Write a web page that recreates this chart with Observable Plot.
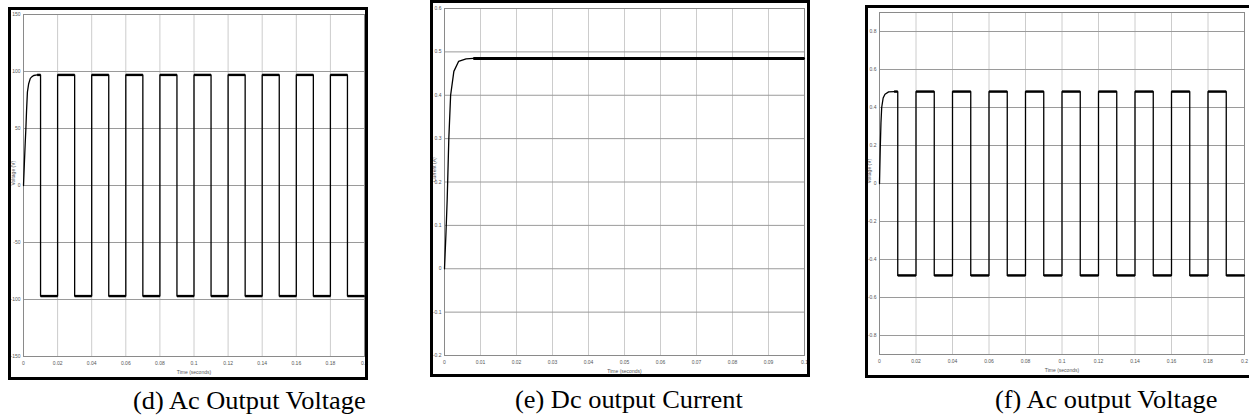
<!DOCTYPE html>
<html><head><meta charset="utf-8">
<script src="https://cdn.jsdelivr.net/npm/d3@7"></script>
<script src="https://cdn.jsdelivr.net/npm/@observablehq/plot@0.6"></script>
<style>
html,body{margin:0;padding:0;background:#fff;}
#root{position:relative;width:1249px;height:417px;overflow:hidden;background:#fff;}
.panel{position:absolute;}
.panel svg{position:absolute;left:0;top:0;}
.border{position:absolute;left:0;top:0;right:0;bottom:0;border:3px solid #000;box-sizing:border-box;pointer-events:none;}
.cap{position:absolute;font-family:"Liberation Serif","Times New Roman",serif;font-size:25px;line-height:25px;white-space:nowrap;transform-origin:0 0;transform:scaleX(1.055);color:#000;}
</style></head><body><div id="root"></div>
<script>
// ---- data ----
// shared switching instants of the square waves (seconds)
const squareTimes = [0.01,0.01,0.02,0.02,0.03,0.03,0.04,0.04,0.05,0.05,0.06,0.06,0.07,0.07,0.08,0.08,0.09,0.09,0.1,0.1,0.11,0.11,0.12,0.12,0.13,0.13,0.14,0.14,0.15,0.15,0.16,0.16,0.17,0.17,0.18,0.18,0.19,0.19,0.2];

// (d) Ac Output Voltage
const dRiseTime  = [0,0.0005,0.001,0.0014,0.0018,0.0023,0.003,0.004,0.005,0.006,0.008];
const dRiseValue = [0,19,37,50,66,82,89,94,95.5,96.5,97];
const dSquare = [97,-97,-97,97,97,-97,-97,97,97,-97,-97,97,97,-97,-97,97,97,-97,-97,97,97,-97,-97,97,97,-97,-97,97,97,-97,-97,97,97,-97,-97,97,97,-97,-97];
const dXTicks = [0,0.02,0.04,0.06,0.08,0.1,0.12,0.14,0.16,0.18,0.2];
const dYTicks = [-150,-100,-50,0,50,100,150];

// (e) Dc output Current
const eTime    = [0,0.0004,0.00075,0.0012,0.0017,0.0026,0.0039,0.006,0.008,0.1];
const eCurrent = [0,0.08,0.16,0.30,0.40,0.455,0.478,0.484,0.485,0.485];
const eXTicks = [0,0.01,0.02,0.03,0.04,0.05,0.06,0.07,0.08,0.09,0.1];
const eYTicks = [-0.2,-0.1,0,0.1,0.2,0.3,0.4,0.5,0.6];

// (f) Ac output Voltage
const fRiseTime  = [0,0.0004,0.0008,0.0012,0.002,0.003,0.005,0.008];
const fRiseValue = [0,0.18,0.32,0.40,0.45,0.47,0.482,0.484];
const fSquare = [0.484,-0.484,-0.484,0.484,0.484,-0.484,-0.484,0.484,0.484,-0.484,-0.484,0.484,0.484,-0.484,-0.484,0.484,0.484,-0.484,-0.484,0.484,0.484,-0.484,-0.484,0.484,0.484,-0.484,-0.484,0.484,0.484,-0.484,-0.484,0.484,0.484,-0.484,-0.484,0.484,0.484,-0.484,-0.484];
const fXTicks = dXTicks;
const fYTicks = [-0.8,-0.6,-0.4,-0.2,0,0.2,0.4,0.6,0.8];

const captions = ["(d) Ac Output Voltage","(e) Dc output Current","(f) Ac output Voltage"];
const yLabels = ["Voltage (V)","Current (A)","Voltage (V)"];
const xLabel = "Time (seconds)";

// ---- drawing ----
const root = document.getElementById("root");
const fmt = d => String(+d.toFixed(3));

function panel(o) {
  const data = o.times.map((t, i) => ({t, v: o.values[i]}));
  const flats = [];
  for (let i = 0; i < data.length - 1; i++) {
    if (data[i].v === data[i+1].v && data[i].t !== data[i+1].t) flats.push({t1: data[i].t, t2: data[i+1].t, v: data[i].v});
  }
  const svg = Plot.plot({
    width: o.width, height: o.height,
    marginLeft: o.m[0], marginRight: o.m[1], marginTop: o.m[2], marginBottom: o.m[3],
    style: {fontFamily: "Arial, 'Liberation Sans', sans-serif", fontSize: "5px", color: "#555", background: "transparent", overflow: "visible"},
    x: {domain: o.xDomain},
    y: {domain: o.yDomain},
    marks: [
      Plot.gridX(o.xTicks, {stroke: "#cccccc", strokeOpacity: 1}),
      Plot.gridY(o.yTicks, {stroke: "#9a9a9a", strokeOpacity: 1}),
      Plot.frame({stroke: "#8a8a8a"}),
      Plot.axisX(o.xTicks, {tickSize: 0, tickPadding: 5, tickFormat: fmt, label: null, fontSize: 5}),
      Plot.axisY(o.yTicks, {tickSize: 0, tickPadding: 3, tickFormat: fmt, label: null, fontSize: 5}),
      Plot.line(data, {x: "t", y: "v", stroke: "#000", strokeWidth: 1.3}),
      Plot.link(flats, {x1: "t1", x2: "t2", y1: "v", y2: "v", stroke: "#000", strokeWidth: o.flatWidth}),
      Plot.text([xLabel], {frameAnchor: "bottom", dy: 17, fontSize: 5, fill: "#555"}),
      Plot.text([o.yLabel], {frameAnchor: "left", rotate: -90, dx: -10, fontSize: 5, fill: "#555"})
    ]
  });
  const div = document.createElement("div");
  div.className = "panel";
  Object.assign(div.style, {left: o.left + "px", top: o.top + "px", width: o.width + "px", height: o.height + "px"});
  div.appendChild(svg);
  const b = document.createElement("div");
  b.className = "border";
  div.appendChild(b);
  root.appendChild(div);
  const c = document.createElement("div");
  c.className = "cap";
  c.textContent = o.caption;
  Object.assign(c.style, {left: o.capLeft + "px", top: o.capTop + "px"});
  root.appendChild(c);
}

panel({left: 8, top: 7, width: 360, height: 373, m: [15, 4, 7, 24],
  xDomain: [0, 0.2], yDomain: [-150, 150], xTicks: dXTicks, yTicks: dYTicks,
  times: dRiseTime.concat(squareTimes), values: dRiseValue.concat(dSquare),
  flatWidth: 2.4, yLabel: yLabels[0], caption: captions[0], capLeft: 133, capTop: 388});

panel({left: 430, top: 0, width: 380, height: 377, m: [14, 6, 8, 22],
  xDomain: [0, 0.1], yDomain: [-0.2, 0.6], xTicks: eXTicks, yTicks: eYTicks,
  times: eTime, values: eCurrent,
  flatWidth: 3, yLabel: yLabels[1], caption: captions[1], capLeft: 515, capTop: 387});

panel({left: 865, top: 5, width: 387, height: 373, m: [14, 8, 7, 24],
  xDomain: [0, 0.2], yDomain: [-0.9, 0.9], xTicks: fXTicks, yTicks: fYTicks,
  times: fRiseTime.concat(squareTimes), values: fRiseValue.concat(fSquare),
  flatWidth: 2.4, yLabel: yLabels[2], caption: captions[2], capLeft: 995, capTop: 387});
</script>
</body></html>
